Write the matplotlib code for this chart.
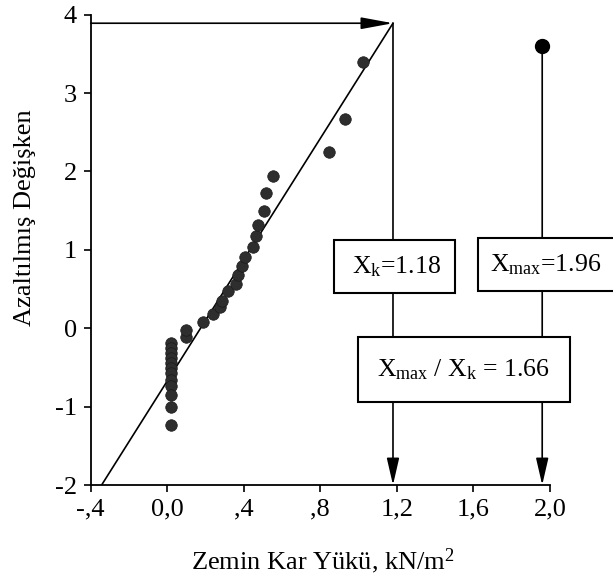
"""
Normal probability plot of ground snow load with characteristic / max values.
"""
import matplotlib
matplotlib.use("Agg")
import matplotlib.pyplot as plt
from matplotlib.patches import Rectangle

matplotlib.rcParams.update({
    "font.family": "Liberation Serif",
    "mathtext.fontset": "custom",
    "mathtext.rm": "Liberation Serif",
    "mathtext.it": "Liberation Serif:italic",
})

# observed snow loads (kN/m2) and their reduced variates
LOAD = [0.02] * 12 + [
    0.10, 0.10, 0.185, 0.24, 0.275, 0.285, 0.32, 0.36, 0.37, 0.39,
    0.405, 0.45, 0.465, 0.475, 0.505, 0.515, 0.555, 0.845, 0.93, 1.025,
]
REDUCED = [
    -0.19, -0.255, -0.32, -0.38, -0.45, -0.51, -0.57, -0.66, -0.74, -0.85, -1.0, -1.23,
    -0.11, -0.02, 0.085, 0.18, 0.27, 0.35, 0.47, 0.565, 0.675, 0.79,
    0.905, 1.03, 1.18, 1.32, 1.50, 1.72, 1.94, 2.245, 2.67, 3.39,
]

# fitted line end points
FIT_X = [-0.343, 1.18]
FIT_Y = [-2.0, 3.89]

X_K = 1.18
Y_K = 3.89
X_MAX = 1.96
Y_MAX = 3.6

XTICKS = [-0.4, 0.0, 0.4, 0.8, 1.2, 1.6, 2.0]
XTICK_LABELS = ["-,4", "0,0", ",4", ",8", "1,2", "1,6", "2,0"]
YTICKS = [-2, -1, 0, 1, 2, 3, 4]

fig = plt.figure(figsize=(6.13, 5.84), dpi=100)
ax = fig.add_axes([0.148, 0.1695, 0.749, 0.8055])
ax.set_xlim(-0.4, 2.0)
ax.set_ylim(-2, 4)

LW = 1.2

# fitted line and data
ax.plot(FIT_X, FIT_Y, color="black", lw=LW, zorder=2)
ax.plot(LOAD, REDUCED, "o", color="#2e2e2e", ms=8.3, mec="#1a1a1a", mew=0.5, zorder=3)

# X_k construction
arrow_h = dict(arrowstyle="-|>,head_length=1.95,head_width=0.36", color="black",
               lw=LW, shrinkA=0, shrinkB=0, mutation_scale=10)
arrow_v = dict(arrowstyle="-|>,head_length=1.65,head_width=0.38", color="black",
               lw=LW, shrinkA=0, shrinkB=0, mutation_scale=10)
ax.annotate("", xy=(X_K, Y_K), xytext=(-0.4, Y_K), arrowprops=arrow_h, zorder=2)
ax.annotate("", xy=(X_K, -2), xytext=(X_K, Y_K), arrowprops=arrow_v, zorder=2)

# X_max construction
ax.plot([X_MAX], [Y_MAX], "o", color="black", ms=10, zorder=3)
ax.annotate("", xy=(X_MAX, -2), xytext=(X_MAX, Y_MAX), arrowprops=arrow_v, zorder=2)

# label boxes
BOXES = [
    ((0.8705, 0.454), 0.632, 0.672, (1.199, 0.79), "X$_{\\mathrm{k}}$=1.18"),
    ((1.624, 0.480), 0.80, 0.668, (1.976, 0.814), "X$_{\\mathrm{max}}$=1.96"),
    ((0.997, -0.944), 1.106, 0.837, (1.548, -0.525),
     "X$_{\\mathrm{max}}$ / X$_{\\mathrm{k}}$ = 1.66"),
]
for (x0, y0), w, h, (tx, ty), txt in BOXES:
    ax.add_patch(Rectangle((x0, y0), w, h, facecolor="white", edgecolor="black",
                           lw=1.5, zorder=4, clip_on=False))
    ax.text(tx, ty, txt, ha="center", va="center", fontsize=18.5, zorder=5)

for s in ("top", "right"):
    ax.spines[s].set_visible(False)
for s in ("left", "bottom"):
    ax.spines[s].set_linewidth(1.3)

ax.set_xticks(XTICKS)
ax.set_xticklabels(XTICK_LABELS)
ax.set_yticks(YTICKS)
ax.set_yticklabels([str(v) for v in YTICKS])
ax.tick_params(direction="out", length=5, width=1.2, labelsize=19)
ax.tick_params(axis="x", pad=5)
ax.tick_params(axis="y", pad=5)

ax.set_xlabel("Zemin Kar Yükü, kN/m$^2$", fontsize=19)
ax.set_ylabel("Azaltılmış Değişken", fontsize=19)
ax.xaxis.set_label_coords(0.505, -0.13)
ax.yaxis.set_label_coords(-0.119, 0.568)

fig.savefig("out.png", dpi=100)
plt.close(fig)
